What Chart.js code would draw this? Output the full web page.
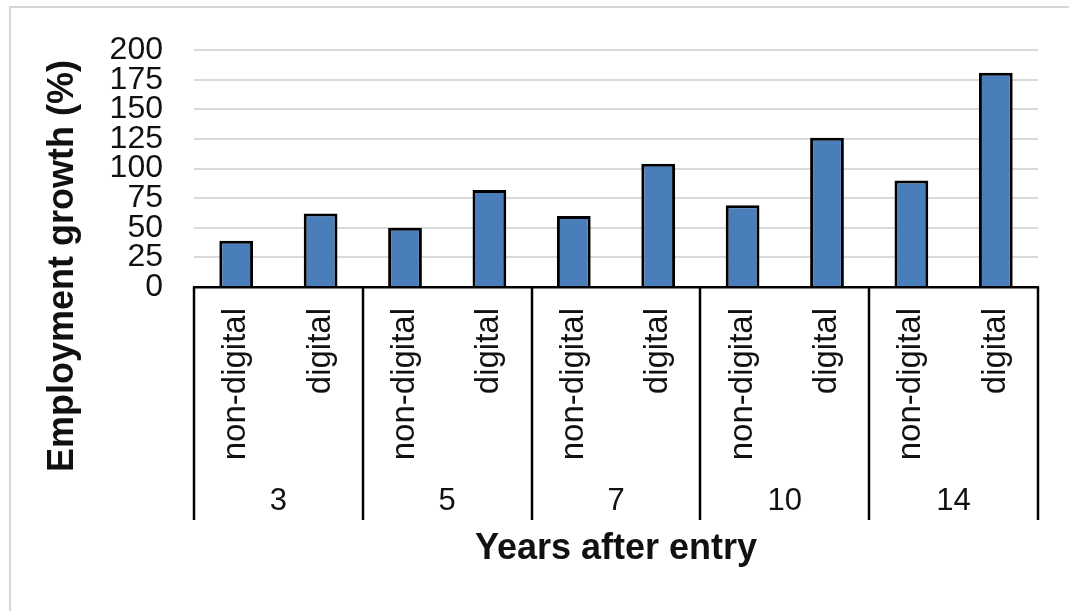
<!DOCTYPE html>
<html lang="en">
<head>
  <meta charset="UTF-8" />
  <title>Employment growth by years after entry</title>
  <script src="https://cdn.jsdelivr.net/npm/chart.js"></script>
  <style>
    html, body { margin: 0; padding: 0; background: #fff; overflow: hidden; }
    .frame {
      position: absolute; left: 9px; top: 6px; width: 1200px; height: 800px;
      border-top: 2px solid #d6d6d6; border-left: 2px solid #d6d6d6;
    }
    #chart { position: absolute; left: 0; top: 0; }
  </style>
</head>
<body>
  <div class="frame"></div>
  <canvas id="chart" width="1069" height="611"></canvas>
  <script>
    // data
    const years = ['3', '5', '7', '10', '14'];
    const types = ['non-digital', 'digital'];
    const categories = years.flatMap(() => types);
    const growth = [39, 62, 50, 82, 60, 104, 69, 126, 90, 181];
    const yTicks = [0, 25, 50, 75, 100, 125, 150, 175, 200];

    const FONT = "'Liberation Sans', Arial, sans-serif";

    // group separators + rotated y title
    const extras = {
      id: 'extras',
      afterDraw(chart) {
        const { ctx, chartArea } = chart;
        const x = chart.scales.x;
        const x2 = chart.scales.x2;
        const bottom = x2.top + 58;
        const xs = [chartArea.left];
        for (let i = 2; i < categories.length; i += 2) {
          xs.push((x.getPixelForValue(i - 1) + x.getPixelForValue(i)) / 2);
        }
        xs.push(chartArea.right);
        ctx.save();
        ctx.strokeStyle = '#000';
        ctx.lineWidth = 2.5;
        xs.forEach(px => {
          ctx.beginPath();
          ctx.moveTo(Math.round(px), chartArea.bottom);
          ctx.lineTo(Math.round(px), bottom);
          ctx.stroke();
        });
        ctx.translate(63, 266);
        ctx.rotate(-Math.PI / 2);
        ctx.fillStyle = '#111';
        ctx.font = 'bold 36px ' + FONT;
        ctx.textAlign = 'center';
        ctx.textBaseline = 'middle';
        ctx.fillText('Employment growth (%)', 0, 0);
        ctx.restore();
      }
    };

    new Chart(document.getElementById('chart'), {
      type: 'bar',
      data: {
        labels: categories,
        datasets: [{
          data: growth,
          backgroundColor: '#4a7ebb',
          borderColor: '#000',
          borderWidth: 3,
          barPercentage: 0.4,
          categoryPercentage: 1
        }]
      },
      options: {
        responsive: false,
        animation: false,
        devicePixelRatio: 1,
        layout: { padding: { left: 10, right: 31, top: 47, bottom: 40 } },
        plugins: { legend: { display: false }, tooltip: { enabled: false } },
        scales: {
          y: {
            min: 0, max: 200,
            afterBuildTicks: s => { s.ticks = yTicks.map(v => ({ value: v })); },
            afterFit: s => { s.width = 184; },
            grid: { color: '#d9d9d9', lineWidth: 2, drawTicks: false },
            border: { display: false },
            ticks: { autoSkip: false, padding: 31, color: '#111', font: { family: FONT, size: 32 } }
          },
          x: {
            offset: true,
            afterFit: s => { s.height = 175; },
            grid: { display: false, drawTicks: false },
            border: { display: true, color: '#000', width: 2.5 },
            ticks: {
              autoSkip: false, minRotation: 90, maxRotation: 90, padding: 21,
              color: '#111', font: { family: FONT, size: 33 }
            }
          },
          x2: {
            type: 'category',
            labels: years,
            position: 'bottom',
            offset: true,
            afterFit: s => { s.height = 109; },
            grid: { display: false, drawTicks: false },
            border: { display: false },
            ticks: { autoSkip: false, maxRotation: 0, padding: 21, color: '#111', font: { family: FONT, size: 31 } },
            title: {
              display: true, text: 'Years after entry', color: '#111',
              padding: 0, font: { family: FONT, size: 36, weight: 'bold' }
            }
          }
        }
      },
      plugins: [extras]
    });
  </script>
</body>
</html>
